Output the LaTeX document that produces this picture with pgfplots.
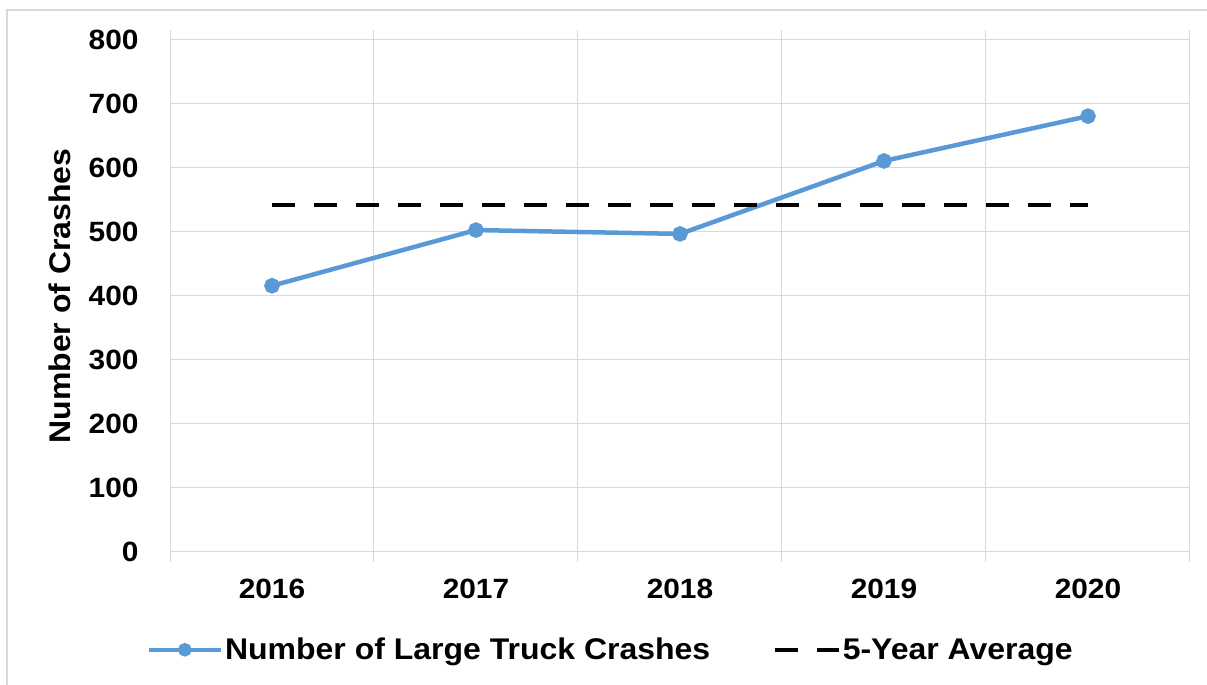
\documentclass[border=0pt]{standalone}
\usepackage{pgfplots}
\pgfplotsset{compat=1.18}
\usepackage{fontspec}
\setmainfont{Liberation Sans}[FakeStretch=1.07]
\definecolor{lineblue}{RGB}{88,153,214}
\definecolor{gridgray}{RGB}{217,217,217}
\pgfplotsset{
  blueleg/.style={legend image code/.code={\draw[mark repeat=2, mark phase=2, ##1, mark size=4.5bp] plot coordinates {(0bp,0bp) (36bp,0bp) (72bp,0bp)};}},
  dashleg/.style={legend image code/.code={\draw[##1] (0bp,0bp) -- (64bp,0bp);}}
}
\begin{document}
\begin{tikzpicture}[x=1bp,y=1bp]
\useasboundingbox (0,0) rectangle (1207,685);
\draw[gridgray, line width=1.5bp] (7,0) -- (7,675) -- (1207,675);
\begin{axis}[
  at={(170bp,133bp)}, anchor=south west,
  width=1020bp, height=512bp, scale only axis,
  xmin=-0.5, xmax=4.5, ymin=0, ymax=800,
  xtick={0,1,2,3,4},
  xticklabels={2016,2017,2018,2019,2020},
  minor xtick={-0.5,0.5,1.5,2.5,3.5,4.5},
  ytick={0,100,...,800},
  major tick length=0pt,
  minor tick length=10bp,
  tick align=outside,
  xminorgrids=true, ymajorgrids=true,
  major grid style={gridgray, line width=1bp},
  minor grid style={gridgray, line width=1bp},
  minor tick style={gridgray, line width=1bp},
  axis line style={draw=none},
  /pgf/number format/assume math mode=true,
  /pgf/number format/1000 sep={},
  tick label style={font=\bfseries\fontsize{28}{32}\selectfont, text=black},
  yticklabel style={xshift=-28bp},
  xticklabel style={yshift=-24bp},
  ylabel={Number of Crashes},
  ylabel style={at={(axis description cs:-0.108,0.5)}, anchor=center, font=\bfseries\fontsize{30}{34}\selectfont},
  legend columns=2,
  legend style={at={(axis description cs:0.432,-0.191)}, anchor=center, draw=none, fill=none,
    font=\bfseries\fontsize{30}{34}\selectfont,
    /tikz/every even column/.append style={column sep=60bp},
    inner sep=0pt},
  legend cell align=left,
]
\addplot[lineblue, line width=4.5bp, mark=*, mark size=5.5bp, mark options={fill=lineblue, draw=none}, blueleg]
  coordinates {(0,416) (1,503) (2,497) (3,611) (4,681)};
\addlegendentry{Number of Large Truck Crashes}
\addplot[black, line width=4.5bp, dash pattern=on 23bp off 19bp, dashleg]
  coordinates {(0,542) (4,542)};
\addlegendentry{5-Year Average}
\end{axis}
\end{tikzpicture}
\end{document}
